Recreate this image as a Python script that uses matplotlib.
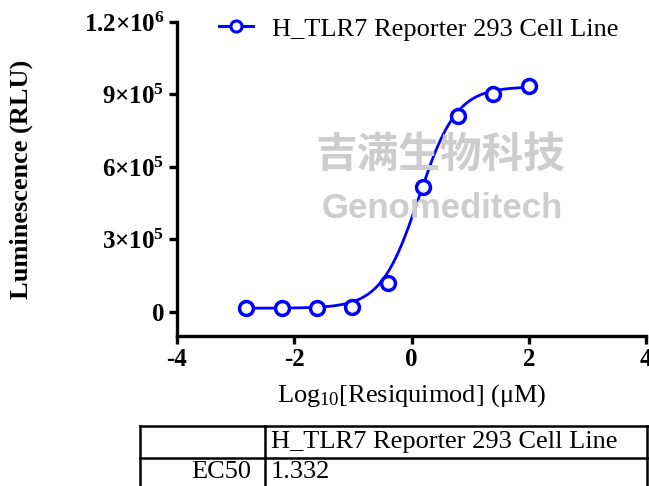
import numpy as np
import matplotlib
matplotlib.use("Agg")
import matplotlib.pyplot as plt
from matplotlib.lines import Line2D

plt.rcParams['font.family'] = ['Liberation Serif', 'DejaVu Serif']
plt.rcParams['mathtext.fontset'] = 'custom'
plt.rcParams['mathtext.rm'] = 'Liberation Serif'
plt.rcParams['mathtext.bf'] = 'Liberation Serif:bold'
plt.rcParams['mathtext.default'] = 'bf'

# data (4-fold dilution from 100 uM)
log_conc = [-2.82, -2.21, -1.61, -1.01, -0.408, 0.194, 0.796, 1.398, 2.0]
rlu = [1.6e4, 1.5e4, 1.5e4, 2.0e4, 1.2e5, 5.17e5, 8.11e5, 9.02e5, 9.35e5]
series_name = "H_TLR7 Reporter 293 Cell Line"

# 4PL fit parameters
ec50 = 1.332
fit_bottom = 1.5e4
fit_top = 9.32e5
fit_hill = 1.35

yticks = [0, 3e5, 6e5, 9e5, 1.2e6]
ytick_labels = ['0', '3×10$^{5}$', '6×10$^{5}$', '9×10$^{5}$', '1.2×10$^{6}$']
xticks = [-4, -2, 0, 2, 4]

W, H = 649, 486
fig = plt.figure(figsize=(W / 100, H / 100), dpi=100)
ax = fig.add_axes([177 / W, 1 - 336 / H, (646 - 177) / W, (336 - 22) / H])

xx = np.linspace(log_conc[0], log_conc[-1], 300)
fit = fit_bottom + (fit_top - fit_bottom) / (1 + 10 ** ((np.log10(ec50) - xx) * fit_hill))
ax.plot(xx, fit, color='#0000ff', lw=2.0, zorder=2)
ax.plot(log_conc, rlu, 'o', ms=10, mfc='white', mec='#0000ff', mew=2.5, zorder=3)

ax.set_xlim(-4, 4)
ax.set_ylim(-1e5, 1.2e6)
ax.set_xticks(xticks)
ax.set_xticklabels([str(t) for t in xticks])
ax.set_yticks(yticks)
ax.set_yticklabels(ytick_labels)
for s in ['top', 'right']:
    ax.spines[s].set_visible(False)
for s in ['left', 'bottom']:
    ax.spines[s].set_linewidth(2.4)
    ax.spines[s].set_capstyle('projecting')
ax.tick_params(width=2.4, length=6, labelsize=18, pad=3)
for lab in ax.get_xticklabels() + ax.get_yticklabels():
    lab.set_fontweight('bold')
ax.spines['bottom'].set_bounds(-4, 4)

ax.set_xlabel('Log$_{\\mathrm{10}}$[Resiquimod] (μM)', fontsize=19, labelpad=8)
ax.set_ylabel('Luminescence (RLU)', fontsize=19, fontweight='bold')
ax.yaxis.set_label_coords(-0.307, 0.5)

handle = Line2D([], [], color='#0000ff', lw=2.2, marker='o', ms=8, mfc='white',
                mec='#0000ff', mew=2.2)
fig.legend([handle], [series_name], loc='center left',
           bbox_to_anchor=(219 / W, 1 - 29 / H), frameon=False, fontsize=19,
           handlelength=1.3, handletextpad=0.7, borderpad=0, borderaxespad=0)

# watermark text
fig.text(440 / W, 1 - 155 / H, '吉满生物科技', fontsize=30, color='#cdcdcd', ha='center',
         va='center', fontweight='bold', family=['Noto Sans CJK SC'], zorder=0)
fig.text(442 / W, 1 - 209 / H, 'Genomeditech', fontsize=25, color='#cdcdcd', ha='center',
         va='center', fontweight='bold', family=['Liberation Sans'], zorder=0)

# results table
tl, tr, tt, tm, tb, tc = 140, 660, 426, 458, 492, 265
lw = 1.8
def fx(p):
    return p / W
def fy(p):
    return 1 - p / H
for yv in (tt, tm, tb):
    fig.add_artist(Line2D([fx(tl), fx(tr)], [fy(yv), fy(yv)], color='black', lw=lw))
for xv in (tl, tc, 647):
    fig.add_artist(Line2D([fx(xv), fx(xv)], [fy(tt), fy(tb)], color='black', lw=lw))
fig.text(fx(tc + 6), fy((tt + tm) / 2), series_name, fontsize=19, va='center', ha='left')
fig.text(fx(tc - 14), fy((tm + tb) / 2 - 3), 'EC50', fontsize=19, va='center', ha='right')
fig.text(fx(tc + 6), fy((tm + tb) / 2 - 3), f'{ec50:.3f}', fontsize=19, va='center', ha='left')

fig.savefig('out.png', dpi=100)
